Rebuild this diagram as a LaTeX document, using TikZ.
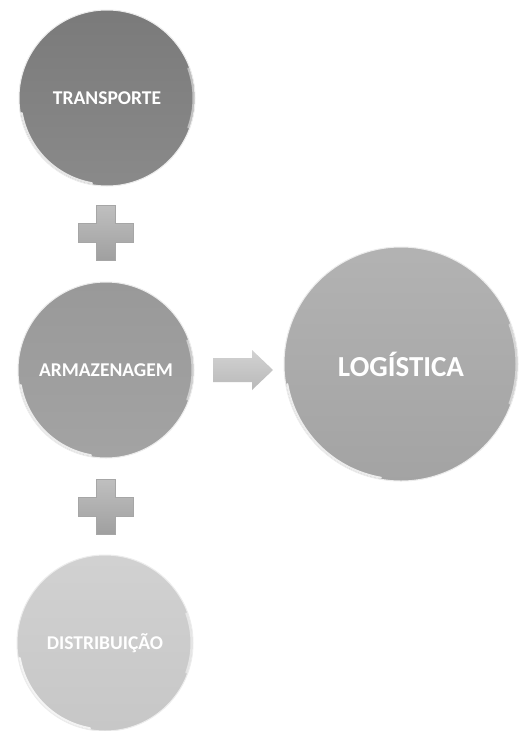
\documentclass[tikz,border=0pt]{standalone}
\usepackage{fontspec}
\setmainfont{Carlito}
\begin{document}
\begin{tikzpicture}[x=1pt,y=-1pt]
\tikzset{
  bubble/.style={circle, inner sep=0pt, minimum size=#1, draw=white!85!gray, line width=1pt,
     text=white, font=\bfseries\fontsize{19.5}{21}\selectfont},
  rim/.style={white, line width=2pt, opacity=0.8, line cap=round},
  plusfill/.style={top color=gray!50, bottom color=gray!75, draw=gray!70, line width=0.4pt},
  arrowfill/.style={top color=gray!35, bottom color=gray!55, draw=none},
}
\useasboundingbox[fill=white] (0,0) rectangle (520,731);

% circles
\node[bubble=176pt, top color=black!52, bottom color=black!46] (trans) at (107,98) {TRANSPORTE};
\node[bubble=176pt, top color=black!40, bottom color=black!36] (arma) at (106,370) {ARMAZENAGEM};
\node[bubble=176pt, top color=black!18, bottom color=black!22] (dist) at (105,643) {DISTRIBUIÇÃO};
\node[bubble=234pt, top color=black!30, bottom color=black!36,
      font=\fontsize{29}{32}\selectfont\bfseries] (logi) at (401,364) {LOGÍSTICA};

% rim highlights
\foreach \n/\r in {trans/86.5pt, arma/86.5pt, dist/86.5pt, logi/115.5pt}{
  \draw[rim] (\n.center) ++(190:\r) arc[start angle=190, end angle=260, radius=\r];
  \draw[rim, opacity=0.5] (\n.center) ++(-20:\r) arc[start angle=-20, end angle=20, radius=\r];
}

% plus signs
\coordinate (p1) at (106,233);
\coordinate (p2) at (106,507);
\foreach \p in {p1,p2}{
  \path[plusfill] (\p) ++(-9.5,-27.5) -- ++(19,0) -- ++(0,18) -- ++(18,0) -- ++(0,19)
     -- ++(-18,0) -- ++(0,18) -- ++(-19,0) -- ++(0,-18) -- ++(-18,0) -- ++(0,-19)
     -- ++(18,0) -- cycle;
}

% block arrow
\coordinate (a0) at (213,370);
\path[arrowfill] (a0) ++(0,-12) -- ++(39,0) -- ++(0,-8) -- ++(21,20) -- ++(-21,20)
   -- ++(0,-8) -- ++(-39,0) -- cycle;
\end{tikzpicture}
\end{document}
